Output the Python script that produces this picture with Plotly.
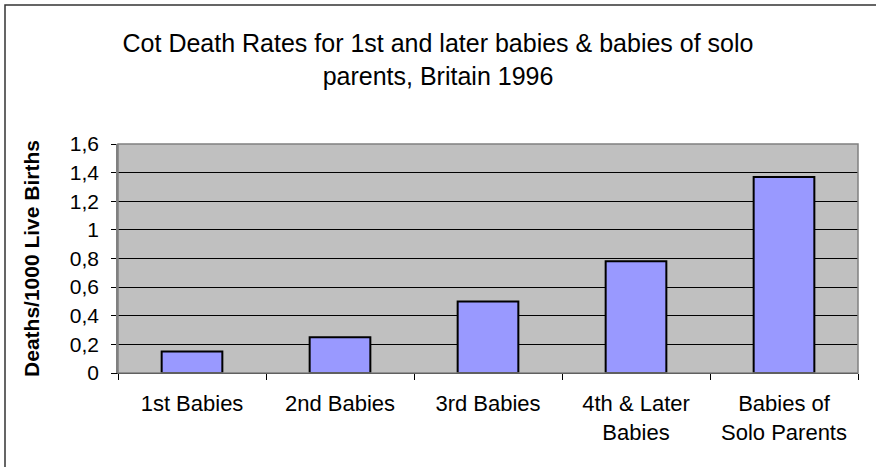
import plotly.graph_objects as go

categories = ["1st Babies", "2nd Babies", "3rd Babies", "4th & Later<br>Babies", "Babies of<br>Solo Parents"]
rates = [0.15, 0.25, 0.5, 0.78, 1.37]
y_ticks = [0, 0.2, 0.4, 0.6, 0.8, 1.0, 1.2, 1.4, 1.6]
y_tick_labels = ["0", "0,2", "0,4", "0,6", "0,8", "1", "1,2", "1,4", "1,6"]

W, H = 876, 467
L, R, T, B = 118, 18, 144, 94
pw, ph = W - L - R, H - T - B

fig = go.Figure(go.Bar(
    x=categories, y=rates,
    marker=dict(color="#9999FF", line=dict(color="black", width=2)),
    width=0.41,
))

font = "Liberation Sans, Arial, sans-serif"
fig.update_layout(
    width=W, height=H,
    margin=dict(l=L, r=R, t=T, b=B, pad=0),
    paper_bgcolor="white", plot_bgcolor="#C0C0C0",
    font=dict(family=font, size=21, color="black"),
    title=dict(text="Cot Death Rates for 1st and later babies & babies of solo<br>parents, Britain 1996",
               x=0.5, xanchor="center", xref="container",
               y=1 - 52 / H, yanchor="middle", yref="container",
               font=dict(size=25, family=font)),
    showlegend=False,
)

# outer chart frame (left and top edges visible)
fig.add_shape(type="rect", xref="paper", yref="paper",
              x0=(5 - L) / pw, x1=(W + 10 - L) / pw,
              y0=(H - B - (H + 10)) / ph, y1=(H - B - 5) / ph,
              line=dict(color="#333333", width=1.5), layer="below")

fig.update_xaxes(
    showgrid=False, tickson="boundaries", ticks="outside", ticklen=6,
    tickcolor="black", showline=True, linecolor="black", linewidth=1,
    tickfont=dict(size=22), ticklabelstandoff=11,
)
fig.update_yaxes(
    range=[0, 1.6], tickvals=y_ticks, ticktext=y_tick_labels,
    showgrid=True, gridcolor="black", gridwidth=1,
    ticks="outside", ticklen=5, tickcolor="black",
    showline=True, linecolor="#808080", linewidth=1.5,
    zeroline=False, tickfont=dict(size=21), ticklabelstandoff=8,
    title=dict(text="<b>Deaths/1000 Live Births</b>", font=dict(size=21), standoff=24),
)
# plot-area border in gray
fig.add_shape(type="rect", xref="paper", yref="paper", x0=0, x1=1, y0=0, y1=1,
              line=dict(color="#808080", width=1.5))

fig.write_html("out.html", config={"displayModeBar": False},
               post_script="document.body.style.margin='0';")
